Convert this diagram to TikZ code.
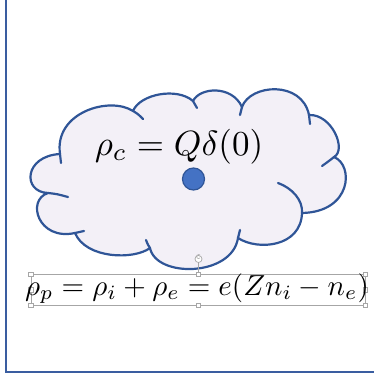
\documentclass[tikz,border=0pt]{standalone}
\usepackage{amsmath, amssymb}
\usepackage{tikz}
\usetikzlibrary{calc}
\usepackage[dvipsnames, svgnames]{xcolor}

\definecolor{cloudline}{HTML}{2F5597}
\definecolor{cloudfill}{HTML}{F3F0F7}
\definecolor{dotfill}{HTML}{4472C4}
\definecolor{framecol}{HTML}{3A5DA0}
\definecolor{handlegray}{HTML}{A6A6A6}

\tikzset{
    cloudedge/.style={draw=cloudline, line width=2.2pt, line cap=round, line join=round},
    handlebox/.style={draw=handlegray, fill=white, line width=0.7pt, minimum size=4.5pt, inner sep=0pt},
}

\begin{document}
\begin{tikzpicture}[x=1pt, y=-1pt]
    \useasboundingbox (0, 0) rectangle (374, 380);

    % Frame
    \draw[framecol, line width=2pt] (6, 0) -- (6, 372) -- (374, 372);

    % Cloud
    \fill[cloudfill] (60,154)
        .. controls (54,112) and (110,96) .. (133,111)
        .. controls (140,94) and (177,87) .. (193,101)
        .. controls (200,87) and (232,85) .. (242,107)
        .. controls (250,84) and (302,80) .. (309,115)
        .. controls (332,114) and (347,150) .. (334,157)
        .. controls (354,165) and (352,212) .. (302,213)
        .. controls (301,247) and (258,251) .. (238,238)
        .. controls (232,277) and (156,278) .. (150,248)
        .. controls (134,260) and (86,259) .. (75,233)
        .. controls (38,241) and (26,200) .. (48,193)
        .. controls (22,192) and (24,156) .. (60,154) -- cycle;
    \draw[cloudedge] (60,154)
        .. controls (54,112) and (110,96) .. (133,111)
        .. controls (140,94) and (177,87) .. (193,101)
        .. controls (200,87) and (232,85) .. (242,107)
        .. controls (250,84) and (302,80) .. (309,115)
        .. controls (332,114) and (347,150) .. (334,157)
        .. controls (354,165) and (352,212) .. (302,213)
        .. controls (301,247) and (258,251) .. (238,238)
        .. controls (232,277) and (156,278) .. (150,248)
        .. controls (134,260) and (86,259) .. (75,233)
        .. controls (38,241) and (26,200) .. (48,193)
        .. controls (22,192) and (24,156) .. (60,154);

    % Inner arcs of the cloud
    \draw[cloudedge] (60,154) .. controls (60,158) .. (61,163);
    \draw[cloudedge] (133,111) .. controls (138,114) .. (143,119);
    \draw[cloudedge] (193,101) .. controls (195,104) .. (197,108);
    \draw[cloudedge] (242,107) .. controls (241,111) .. (240,115);
    \draw[cloudedge] (309,115) .. controls (310,119) .. (310,124);
    \draw[cloudedge] (334,157) .. controls (329,161) .. (322,166);
    \draw[cloudedge] (278,183) .. controls (292,188) and (303,200) .. (302,213);
    \draw[cloudedge] (240,230) .. controls (239,234) .. (238,238);
    \draw[cloudedge] (150,248) .. controls (148,245) .. (146,240);
    \draw[cloudedge] (75,233) .. controls (79,232) .. (84,231);
    \draw[cloudedge] (48,193) .. controls (57,194) .. (68,197);

    % Point charge
    \node[circle, draw=cloudline, fill=dotfill, line width=1.2pt,
          minimum size=22pt, inner sep=0pt] (charge) at (193.5, 179) {};
    \node[anchor=base, inner sep=0pt, scale=3.5] (rhoc) at (179, 155)
        {$\rho_c = Q\delta(0)$};

    % Text box with selection handles
    \draw[handlegray, line width=0.8pt] (31, 274.5) rectangle (365.5, 305.5);
    \draw[handlegray, line width=0.8pt] (198.5, 263) -- (198.5, 274.5);
    \node[circle, draw=handlegray, fill=white, line width=0.7pt,
          minimum size=7pt, inner sep=0pt] (rotate) at (198.5, 259) {};
    \draw[handlegray, line width=0.6pt] ($(rotate)+(1.6,-1.2)$) arc (40:320:2);
    \foreach \hx/\hy in {31/274.5, 198.5/274.5, 365.5/274.5,
                         31/290, 365.5/290,
                         31/305.5, 198.5/305.5, 365.5/305.5}
        \node[handlebox] at (\hx, \hy) {};
    \node[anchor=base, inner sep=0pt, scale=2.9] (rhop) at (197, 295)
        {$\rho_p = \rho_i + \rho_e = e(Zn_i - n_e)$};
\end{tikzpicture}
\end{document}
